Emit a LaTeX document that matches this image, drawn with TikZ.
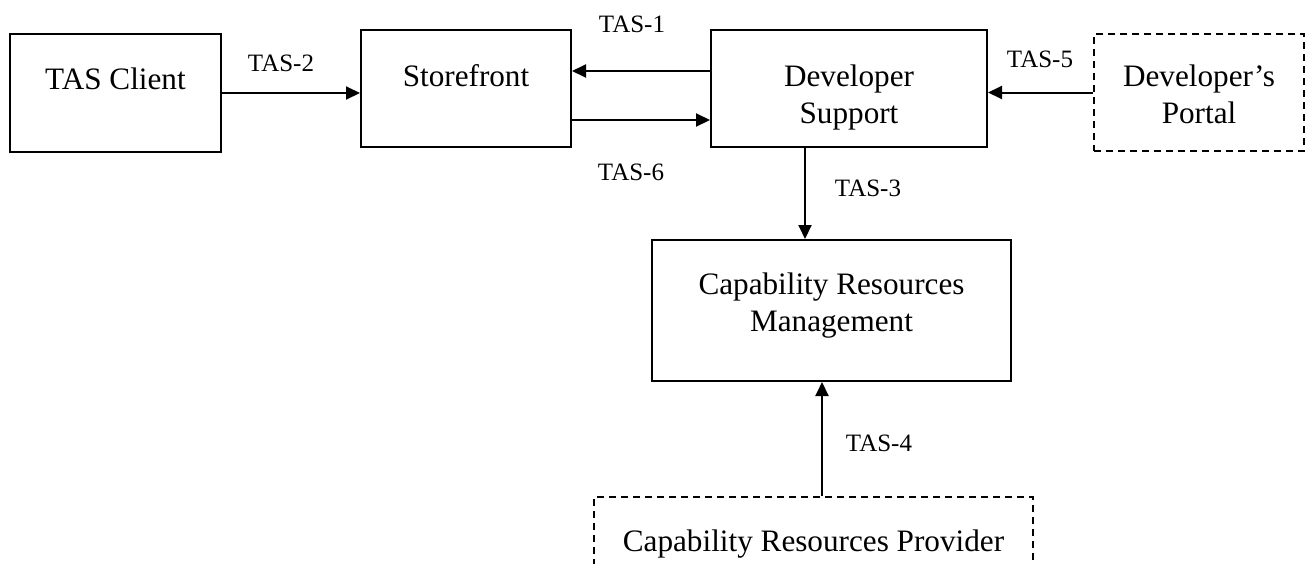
\documentclass[tikz,border=0pt]{standalone}
\usepackage{fontspec}
\setmainfont{Liberation Serif}
\usetikzlibrary{arrows.meta}
\tikzset{
  block/.style={draw, line width=1pt, inner xsep=0pt, inner ysep=0pt,
    anchor=north west, align=center,
    font=\fontsize{15.6}{18.5}\selectfont},
  outside/.style={block, dash pattern=on 3.5pt off 2.5pt},
  iface/.style={font=\fontsize{12.5}{15}\selectfont},
  link/.style={line width=1pt, -{Triangle[length=7pt,width=6.5pt]}},
}

\begin{document}
\begin{tikzpicture}[x=0.5pt, y=-0.5pt]
  \useasboundingbox (0,0) rectangle (1305,563);

  % Components
  \node[block, minimum width=105.5pt, text height=27.5pt, text depth=31.5pt] (client) at (9,33) {TAS Client};
  \node[block, minimum width=105pt, text height=28pt, text depth=30.5pt] (store) at (360,29) {Storefront};
  \node[block, minimum width=138pt, text height=46.5pt, text depth=12pt] (dev) at (710,29) {Developer\\Support};
  \node[outside, minimum width=105pt, text height=44.5pt, text depth=14pt] (portal) at (1093,33) {Developer’s\\Portal};
  \node[block, minimum width=179.5pt, text height=45.5pt, text depth=25pt] (crm) at (651,239) {Capability Resources\\Management};
  \node[outside, minimum width=219.5pt, text height=27pt, text depth=25pt] (prov) at (593,496) {Capability Resources Provider};

  % Interfaces
  \node[iface] (tas1) at (632,24) {TAS-1};
  \node[iface] (tas2) at (281,63) {TAS-2};
  \node[iface] (tas3) at (868,188) {TAS-3};
  \node[iface] (tas4) at (879,443) {TAS-4};
  \node[iface] (tas5) at (1040,59) {TAS-5};
  \node[iface] (tas6) at (631,172) {TAS-6};

  \draw[link] (client.east) -- (client.east -| store.west);
  \draw[link] ([yshift=8.75pt]dev.west) -- ([yshift=8.75pt]store.east);
  \draw[link] ([yshift=-15.75pt]store.east) -- ([yshift=-15.75pt]dev.west);
  \draw[link] (portal.west) -- (portal.west -| dev.east);
  \draw[link] ([xshift=-22pt]dev.south) -- ([xshift=-22pt]dev.south |- crm.north);
  \draw[link] ([xshift=4.25pt]prov.north) -- ([xshift=4.25pt]prov.north |- crm.south);
\end{tikzpicture}
\end{document}
